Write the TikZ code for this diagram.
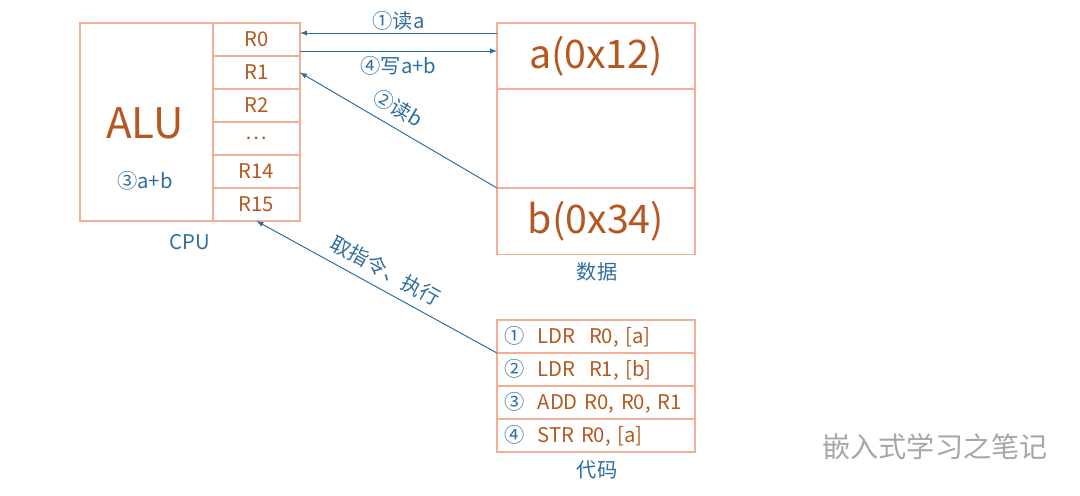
\documentclass[tikz,border=0pt]{standalone}
\usepackage{fontspec}
\setmainfont{Noto Sans CJK SC}
\usepackage{tikz}
\usetikzlibrary{arrows,positioning}
\definecolor{edge}{HTML}{F4AE96}
\definecolor{brown}{HTML}{B4581F}
\definecolor{ink}{HTML}{2E6E9E}
\begin{document}
\begin{tikzpicture}[
    x=0.025cm, y=-0.025cm,
    cell/.style={rectangle, draw=edge, line width=0.8pt, outer sep=0pt, minimum width=2.175cm, minimum height=0.825cm, inner sep=0pt, font=\Large, text=brown, anchor=north west},
    mem/.style={rectangle, draw=edge, line width=0.8pt, outer sep=0pt, minimum width=4.95cm, inner sep=0pt, text=brown, anchor=north west},
    code/.style={mem, minimum height=0.825cm, font=\Large, text=brown, text width=4.6cm, align=left},
    tag/.style={text=ink, font=\Large},
    arrow/.style={-latex, ink, line width=0.7pt}
]
    \useasboundingbox (0,0) rectangle (1080,495);

    % CPU
    \node[rectangle, draw=edge, line width=0.8pt, outer sep=0pt, minimum width=3.325cm, minimum height=4.95cm, anchor=north west, inner sep=0pt] (alu) at (80,23) {};
    \node[text=brown, font=\fontsize{30}{34}\selectfont] at (145,123) {ALU};
    \node[tag] at (145,181) {③a+b};
    \node[cell] (r0) at (213,23) {R0};
    \node[cell, below=0pt of r0] (r1) {R1};
    \node[cell, below=0pt of r1] (r2) {R2};
    \node[cell, below=0pt of r2] (rdots) {\dots};
    \node[cell, below=0pt of rdots] (r14) {R14};
    \node[cell, below=0pt of r14] (r15) {R15};
    \node[tag] (cpu) at (190,242) {CPU};

    % Data
    \node[mem, minimum height=1.65cm, font=\fontsize{28}{32}\selectfont] (va) at (497,23) {a(0x12)};
    \node[mem, minimum height=2.475cm, below=0pt of va] (gap) {};
    \node[mem, minimum height=1.65cm, font=\fontsize{28}{32}\selectfont, below=0pt of gap] (vb) {b(0x34)};
    \node[tag] (data) at (597,272) {数据};

    % Code
    \node[code] (c1) at (497,320) {\textcolor{ink}{①}\ \ LDR\ \ R0, [a]};
    \node[code, below=0pt of c1] (c2) {\textcolor{ink}{②}\ \ LDR\ \ R1, [b]};
    \node[code, below=0pt of c2] (c3) {\textcolor{ink}{③}\ \ ADD R0, R0, R1};
    \node[code, below=0pt of c3] (c4) {\textcolor{ink}{④}\ \ STR R0, [a]};
    \node[tag] (codelbl) at (597,470) {代码};

    % Arrows
    \coordinate (ain) at (va.north west |- 0,33);
    \coordinate (rin) at (r0.north east |- 0,33);
    \coordinate (rout) at (r0.north east |- 0,51);
    \coordinate (aout) at (va.north west |- 0,51);
    \draw[arrow] (ain) -- node[tag, above=-2pt] {①读a} (rin);
    \draw[arrow] (rout) -- node[tag, below=0pt] {④写a+b} (aout);
    \draw[arrow] (vb.north west) -- node[tag, above=3pt, sloped, pos=0.55] {②读b} (r1.east);
    \draw[arrow] (c1.south west) -- node[tag, above=3pt, sloped] {取指令、执行} (r15.south);

    % Watermark
    \node[text=gray!70, font=\fontsize{20}{24}\selectfont] (mark) at (935,447) {嵌入式学习之笔记};
\end{tikzpicture}
\end{document}
